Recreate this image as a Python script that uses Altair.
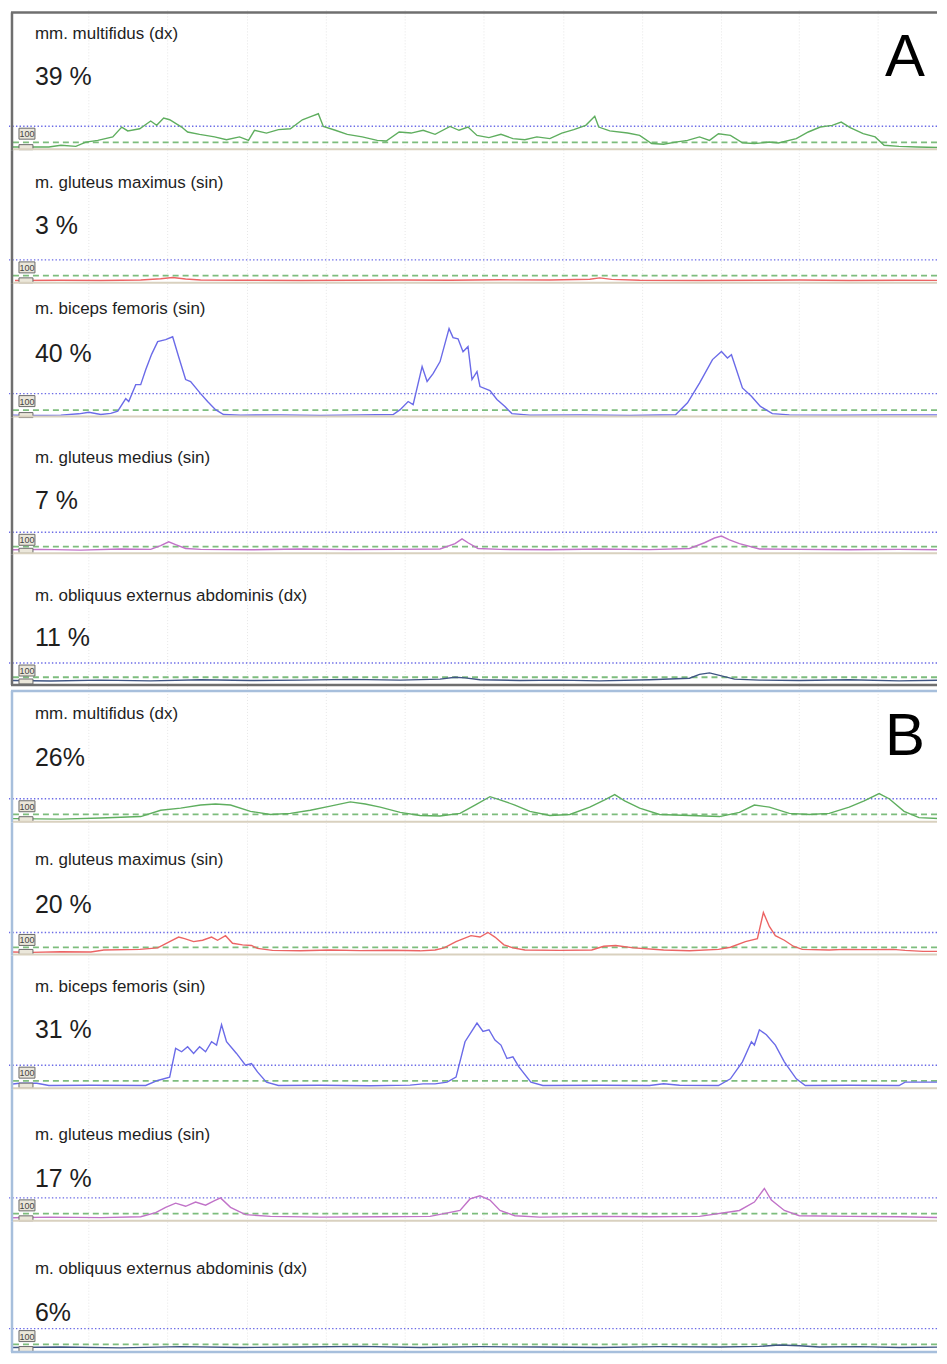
import altair as alt
import pandas as pd

# ---------------- data (EMG envelopes, sample index vs. amplitude, 100 = reference level) -------------
PANEL_LETTERS = ["A", "B"]
MUSCLES = ["mm. multifidus (dx)", "m. gluteus maximus (sin)", "m. biceps femoris (sin)",
           "m. gluteus medius (sin)", "m. obliquus externus abdominis (dx)"]
PCT_A = ["39 %", "3 %", "40 %", "7 %", "11 %"]
PCT_B = ["26%", "20 %", "31 %", "17 %", "6%"]
LEVEL_REF = 100
LEVEL_THR = 25
GRID_S = [88, 167, 247, 326, 405, 484, 564, 643, 722, 800, 879]

A1_X = [12, 33, 48, 60, 75, 85, 97, 112, 121, 127, 139, 150, 156, 163, 169, 181, 187, 199, 214, 226,
        239, 248, 254, 266, 278, 290, 302, 311, 318, 323, 335, 347, 362, 377, 386, 399, 411, 423, 435, 450,
        459, 468, 477, 489, 501, 513, 525, 537, 550, 562, 574, 586, 595, 599, 610, 628, 640, 652, 664, 676,
        688, 700, 710, 719, 731, 743, 755, 770, 779, 797, 809, 821, 833, 842, 851, 864, 876, 885, 900, 918, 942]
A1_Y = [3, 3, 3, 11, 6, 26, 34, 50, 96, 78, 88, 124, 104, 138, 130, 96, 73, 62, 50, 37,
        50, 34, 81, 68, 84, 88, 130, 146, 158, 99, 81, 62, 50, 34, 31, 73, 68, 81, 62, 99,
        81, 96, 57, 47, 62, 42, 37, 50, 42, 68, 84, 104, 146, 96, 78, 68, 57, 19, 16, 26,
        34, 50, 34, 65, 57, 22, 19, 26, 22, 42, 73, 96, 104, 119, 93, 65, 50, 11, 6, 3, 0]

A2_X = [14, 60, 100, 140, 160, 172, 185, 200, 240, 300, 350, 400, 450, 500, 550, 590, 600, 612, 640, 700,
        760, 800, 850, 900, 944]
A2_Y = [2, 3, 2, 4, 10, 16, 9, 4, 3, 2, 3, 4, 3, 5, 4, 8, 14, 7, 3, 2, 3, 4, 2, 3, 2]

A3_X = [12, 30, 60, 78, 88, 100, 110, 117, 125, 128, 135, 140, 145, 151, 157, 165, 172, 178, 185, 190,
        200, 207, 215, 223, 240, 280, 320, 360, 393, 400, 408, 413, 422, 427, 433, 440, 449, 453, 458, 463,
        468, 472, 477, 480, 490, 497, 505, 512, 530, 580, 630, 676, 688, 700, 713, 722, 728, 732, 737, 743,
        752, 761, 773, 790, 840, 890, 944]
A3_Y = [2, 0, 2, 8, 15, 5, 10, 20, 77, 64, 141, 141, 209, 280, 337, 346, 359, 268, 164, 155,
        100, 64, 27, 5, 2, 3, 1, 3, 5, 27, 64, 50, 223, 155, 191, 246, 396, 355, 350, 291,
        314, 164, 200, 132, 114, 73, 41, 9, 2, 3, 1, 4, 58, 148, 255, 292, 262, 277, 209, 126,
        88, 42, 9, 3, 2, 3, 3]

A4_X = [12, 40, 80, 120, 150, 160, 168, 175, 185, 200, 250, 300, 350, 400, 440, 455, 462, 468, 478, 500,
        550, 600, 650, 690, 705, 715, 722, 730, 740, 760, 800, 850, 900, 944]
A4_Y = [8, 10, 6, 12, 10, 30, 50, 35, 15, 10, 8, 12, 9, 10, 12, 40, 65, 45, 15, 10,
        8, 12, 9, 15, 45, 70, 80, 60, 40, 12, 10, 8, 10, 8]

A5_X = [12, 50, 100, 150, 200, 250, 300, 350, 400, 440, 455, 465, 480, 520, 560, 600, 650, 690, 700, 710,
        720, 735, 760, 800, 850, 900, 944]
A5_Y = [8, 5, 10, 6, 12, 8, 10, 14, 10, 15, 25, 22, 12, 8, 10, 6, 12, 20, 40, 48, 35, 15, 10, 8, 12, 6, 10]

B1_X = [12, 60, 100, 140, 160, 180, 200, 215, 230, 250, 270, 290, 310, 330, 350, 365, 380, 400, 420, 440,
        460, 475, 490, 500, 515, 530, 550, 570, 590, 605, 615, 625, 640, 660, 690, 720, 740, 755, 770, 790,
        810, 830, 850, 865, 880, 890, 905, 920, 944]
B1_Y = [5, 3, 8, 15, 45, 55, 70, 75, 70, 40, 25, 30, 45, 65, 85, 75, 60, 35, 20, 18,
        30, 70, 110, 95, 70, 40, 20, 25, 60, 95, 120, 90, 55, 25, 20, 15, 35, 70, 60, 30,
        25, 30, 60, 90, 125, 100, 40, 10, 5]

B2_X = [12, 30, 60, 90, 103, 139, 157, 169, 178, 184, 193, 202, 211, 217, 225, 232, 242, 251, 257, 272,
        300, 330, 360, 390, 420, 435, 444, 456, 471, 480, 488, 495, 504, 513, 525, 560, 592, 604, 616, 634,
        664, 690, 719, 731, 746, 758, 764, 770, 776, 785, 794, 803, 830, 845, 870, 894, 906, 924, 944]
B2_Y = [2, 0, 3, 2, 12, 15, 23, 54, 77, 69, 54, 61, 77, 61, 84, 46, 38, 35, 20, 10,
        8, 12, 9, 11, 8, 12, 23, 54, 84, 77, 100, 77, 38, 23, 12, 10, 12, 31, 35, 23,
        12, 8, 15, 26, 54, 69, 200, 130, 84, 61, 31, 15, 12, 15, 14, 15, 10, 5, 5]

B3_X = [12, 18, 36, 48, 90, 145, 157, 169, 175, 181, 187, 193, 199, 205, 211, 216, 221, 226, 236, 245,
        251, 257, 266, 278, 320, 370, 410, 423, 435, 447, 456, 465, 477, 483, 489, 495, 501, 507, 513, 519,
        531, 543, 600, 650, 664, 680, 719, 731, 743, 752, 755, 760, 767, 776, 785, 797, 806, 850, 900, 906, 944]
B3_Y = [10, 14, 14, 3, 4, 3, 27, 43, 180, 164, 188, 156, 188, 164, 212, 196, 293, 212, 156, 100,
        108, 68, 19, 3, 4, 2, 5, 11, 11, 19, 43, 212, 301, 261, 269, 220, 196, 132, 140, 92,
        19, 3, 4, 3, 11, 4, 3, 35, 116, 212, 196, 269, 245, 196, 116, 35, 3, 4, 3, 19, 19]

B4_X = [12, 50, 100, 140, 155, 165, 175, 185, 195, 205, 213, 220, 230, 245, 270, 320, 380, 430, 460, 470,
        480, 490, 500, 515, 540, 600, 650, 700, 740, 755, 765, 772, 785, 800, 850, 900, 944]
B4_Y = [5, 8, 6, 10, 30, 55, 75, 60, 80, 65, 85, 100, 55, 20, 12, 8, 10, 12, 40, 95,
        110, 90, 40, 15, 8, 12, 10, 12, 40, 80, 145, 90, 40, 15, 12, 10, 6]

B5_X = [12, 60, 120, 180, 240, 300, 360, 420, 480, 540, 600, 660, 720, 760, 780, 800, 820, 860, 900, 944]
B5_Y = [10, 12, 8, 14, 10, 12, 15, 10, 14, 12, 10, 14, 12, 15, 22, 18, 12, 14, 10, 12]

XS = [A1_X, A2_X, A3_X, A4_X, A5_X, B1_X, B2_X, B3_X, B4_X, B5_X]
YS = [A1_Y, A2_Y, A3_Y, A4_Y, A5_Y, B1_Y, B2_Y, B3_Y, B4_Y, B5_Y]

# ---------------- styling / layout ----------------
W = 930
X_DOMAIN = [8, 938]
TRACE_COLORS = ["#5fae5f", "#ec6464", "#6b6be8", "#c173c8", "#3f5583"]
PANEL_BORDER = {"A": "#6f6f6f", "B": "#a7bfdc"}
SEP_COLOR = "#d9d1bf"
# h: row height, t/p: title/percent baselines, d: 100-level pixel, b: zero-level pixel (relative to row top)
LAYOUT = [
    dict(h=140, t=28.5, p=75, d=116, b=137.5, top=2, bottom=None),
    dict(h=134, t=37.5, p=84, d=110, b=131, top=None, bottom=None),
    dict(h=134, t=30.5, p=78, d=110, b=132, top=None, bottom=None),
    dict(h=137, t=45.5, p=92, d=115, b=134, top=None, bottom=None),
    dict(h=134, t=46.5, p=92, d=109, b=128, top=None, bottom=131),
    dict(h=135, t=31.5, p=78, d=111, b=132, top=3, bottom=None),
    dict(h=133, t=42.5, p=90, d=110, b=130, top=None, bottom=None),
    dict(h=134, t=36.5, p=83, d=110, b=131, top=None, bottom=None),
    dict(h=133, t=50.5, p=98, d=109, b=130, top=None, bottom=None),
    dict(h=132, t=52.5, p=99, d=107, b=128, top=None, bottom=130.5),
]
TITLE_FONT = "Liberation Sans"

one = pd.DataFrame({"k": [0]})


def row_chart(i):
    L = LAYOUT[i]
    panel = PANEL_LETTERS[i // 5]
    j = i % 5
    h, d, b = L["h"], L["d"], L["b"]
    k = (b - d) / 100.0
    ysc = alt.Scale(domain=[-(h - b) / k, b / k], nice=False, zero=False)
    xsc = alt.Scale(domain=X_DOMAIN, nice=False, zero=False)
    pct = (PCT_A if panel == "A" else PCT_B)[j]
    bc = PANEL_BORDER[panel]

    layers = []
    layers.append(alt.Chart(pd.DataFrame({"sample": GRID_S})).mark_rule(
        color="#e6e6e6", strokeDash=[1, 2], strokeWidth=1).encode(
        x=alt.X("sample:Q", scale=xsc, axis=None)))
    layers.append(alt.Chart(pd.DataFrame({"level": [LEVEL_REF]})).mark_rule(
        color="#6a6ae6", strokeDash=[1.4, 2.2], strokeWidth=1.4).encode(
        y=alt.Y("level:Q", scale=ysc, axis=None)))
    layers.append(alt.Chart(pd.DataFrame({"level": [LEVEL_THR]})).mark_rule(
        color="#7dbd7d", strokeDash=[6, 4], strokeWidth=1.8).encode(
        y=alt.Y("level:Q", scale=ysc, axis=None)))
    sig = pd.DataFrame({"sample": XS[i], "emg": YS[i]})
    layers.append(alt.Chart(sig).mark_line(
        color=TRACE_COLORS[j], strokeWidth=1.4, clip=True, interpolate="linear").encode(
        x=alt.X("sample:Q", scale=xsc, axis=None),
        y=alt.Y("emg:Q", scale=ysc, axis=None)))
    # scale boxes at the left
    layers.append(alt.Chart(one).mark_rect(fill="#ebe7da", stroke="#6a6a6a", strokeWidth=1).encode(
        x=alt.value(10), x2=alt.value(26), y=alt.value(d + 2), y2=alt.value(d + 13)))
    layers.append(alt.Chart(one).mark_text(fontSize=9, color="#444", font=TITLE_FONT).encode(
        x=alt.value(18), y=alt.value(d + 8), text=alt.value("100")))
    layers.append(alt.Chart(one).mark_rect(fill="#ebe7da", stroke="#6a6a6a", strokeWidth=1).encode(
        x=alt.value(10), x2=alt.value(24), y=alt.value(b - 3), y2=alt.value(b + 2)))
    # texts
    layers.append(alt.Chart(one).mark_text(align="left", baseline="alphabetic", fontSize=17,
                                           color="#1e1e1e", font=TITLE_FONT).encode(
        x=alt.value(26), y=alt.value(L["t"]), text=alt.value(MUSCLES[j])))
    layers.append(alt.Chart(one).mark_text(align="left", baseline="alphabetic", fontSize=25,
                                           color="#1e1e1e", font=TITLE_FONT).encode(
        x=alt.value(26), y=alt.value(L["p"]), text=alt.value(pct)))
    if j == 0:
        layers.append(alt.Chart(one).mark_text(align="center", baseline="alphabetic", fontSize=60,
                                               color="#000000", font=TITLE_FONT).encode(
            x=alt.value(898), y=alt.value(66 if panel == "A" else 67), text=alt.value(panel)))
    # borders / separators
    y0 = L["top"] if L["top"] is not None else 0
    y1 = L["bottom"] if L["bottom"] is not None else h
    layers.append(alt.Chart(one).mark_rule(color=bc, strokeWidth=2.5).encode(
        x=alt.value(3), y=alt.value(y0), y2=alt.value(y1)))
    if L["top"] is not None:
        layers.append(alt.Chart(one).mark_rule(color=bc, strokeWidth=2.5).encode(
            x=alt.value(2), x2=alt.value(W), y=alt.value(L["top"])))
    if L["bottom"] is not None:
        layers.append(alt.Chart(one).mark_rule(color=bc, strokeWidth=2.5).encode(
            x=alt.value(2), x2=alt.value(W), y=alt.value(L["bottom"])))
    else:
        layers.append(alt.Chart(one).mark_rule(color=SEP_COLOR, strokeWidth=2).encode(
            x=alt.value(4), x2=alt.value(W), y=alt.value(h - 1)))
    return alt.layer(*layers).properties(width=W, height=h)


rows = [row_chart(i) for i in range(10)]
chart = alt.vconcat(*rows, spacing=0, bounds="flush", padding=0, background="white").configure_view(
    strokeWidth=0)

chart.save("out.html", embed_options={"renderer": "svg", "actions": False})
